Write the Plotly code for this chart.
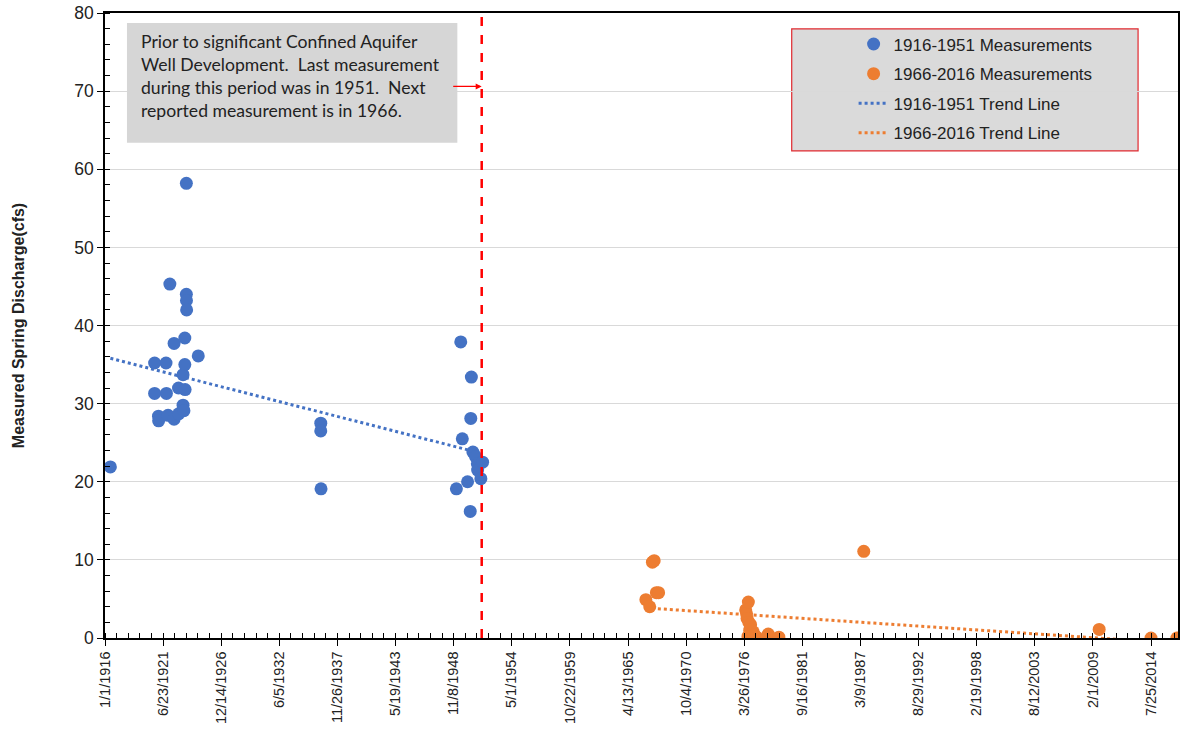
import pandas as pd
import plotly.graph_objects as go

# ---------------- data ----------------
blue_dates = [
    "1916-07-04", "1920-09-03", "1920-09-03", "1921-01-15", "1921-01-20",
    "1921-10-01", "1921-10-15", "1921-12-10", "1922-02-10", "1922-07-05",
    "1922-07-05", "1922-12-05", "1922-12-10", "1923-05-10", "1923-05-10",
    "1923-06-10", "1923-07-10", "1923-07-10", "1923-07-20", "1923-09-01",
    "1923-09-01", "1923-09-05", "1923-09-10", "1924-10-15",
    "1936-05-01", "1936-05-01", "1936-05-10",
    "1949-02-10", "1949-07-10", "1949-09-01", "1950-03-01", "1950-06-01",
    "1950-06-20", "1950-07-10", "1950-09-01", "1950-12-01", "1951-02-01",
    "1951-02-10", "1951-06-01", "1951-08-01",
]
blue_values = [
    21.9, 35.2, 31.3, 28.4, 27.8,
    35.2, 31.3, 28.5, 45.3, 37.7,
    28.0, 32.0, 28.7, 33.7, 29.8,
    29.1, 38.4, 35.0, 31.8, 58.2,
    44.0, 43.2, 42.0, 36.1,
    27.5, 26.5, 19.1,
    19.1, 37.9, 25.5, 20.0, 16.2,
    28.1, 33.4, 23.8, 23.2, 22.3,
    21.5, 20.4, 22.5,
]
orange_dates = [
    "1966-12-19", "1967-05-01", "1967-08-01", "1967-10-01", "1967-12-15",
    "1968-03-01", "1976-05-15", "1976-06-15", "1976-08-15", "1976-07-01",
    "1976-09-01", "1976-11-01", "1976-10-01", "1977-02-01", "1976-08-01",
    "1977-06-01", "1977-03-01", "1978-07-01", "1979-07-01", "1987-07-01",
    "2009-09-05", "2014-07-25", "2016-12-31",
]
orange_values = [
    4.9, 4.0, 9.7, 9.9, 5.8,
    5.8, 3.6, 3.1, 4.6, 2.5,
    2.0, 1.7, 1.0, 0.8, 0.2,
    0.1, 0.4, 0.5, 0.1, 11.1,
    1.1, 0.0, 0.0,
]
blue_trend_dates = ["1916-07-04", "1951-08-01"]
blue_trend_values = [35.8, 23.6]
orange_trend_dates = ["1966-12-19", "2016-12-31"]
orange_trend_values = [3.85, -0.68]

x_tick_labels = [
    "1/1/1916", "6/23/1921", "12/14/1926", "6/5/1932", "11/26/1937",
    "5/19/1943", "11/8/1948", "5/1/1954", "10/22/1959", "4/13/1965",
    "10/4/1970", "3/26/1976", "9/16/1981", "3/9/1987", "8/29/1992",
    "2/19/1998", "8/12/2003", "2/1/2009", "7/25/2014",
]
y_tick_values = [0, 10, 20, 30, 40, 50, 60, 70, 80]
divider_date = "1951-07-01"
x_range = ["1916-01-01", "2017-02-08"]

note_text = ("Prior to significant Confined Aquifer<br>"
             "Well Development.\u00a0 Last measurement<br>"
             "during this period was in 1951.\u00a0 Next<br>"
             "reported measurement is in 1966.")

# ---------------- figure ----------------
tick_vals = [pd.to_datetime(s, format="%m/%d/%Y").strftime("%Y-%m-%d") for s in x_tick_labels]

BLUE = "#4472C4"
ORANGE = "#ED7D31"
FONT = "Arial, Liberation Sans, sans-serif"

fig = go.Figure()

fig.add_trace(go.Scatter(
    x=blue_trend_dates, y=blue_trend_values, mode="lines",
    name="1916-1951 Trend Line", legendgroup="c", legendrank=3,
    line=dict(color=BLUE, width=3, dash="dot")))
fig.add_trace(go.Scatter(
    x=orange_trend_dates, y=orange_trend_values, mode="lines",
    name="1966-2016 Trend Line", legendgroup="d", legendrank=4,
    line=dict(color=ORANGE, width=3, dash="dot")))
fig.add_trace(go.Scatter(
    x=blue_dates, y=blue_values, mode="markers",
    name="1916-1951 Measurements", legendgroup="a", legendrank=1,
    marker=dict(color=BLUE, size=13, line=dict(width=0))))
fig.add_trace(go.Scatter(
    x=orange_dates, y=orange_values, mode="markers",
    name="1966-2016 Measurements", legendgroup="b", legendrank=2,
    marker=dict(color=ORANGE, size=13, line=dict(width=0))))

L, R, T, B = 105, 3, 12, 102
W, H = 1183, 740
pw, ph = W - L - R, H - T - B


def px(x):
    return (x - L) / pw


def py(y):
    return (H - B - y) / ph


shapes = [
    # note box
    dict(type="rect", xref="paper", yref="paper",
         x0=px(127), x1=px(458), y0=py(142), y1=py(22),
         fillcolor="#d6d6d6", line=dict(width=0), layer="above"),
    # legend box
    dict(type="rect", xref="paper", yref="paper",
         x0=px(793), x1=px(1140), y0=py(150), y1=py(28),
         fillcolor="#dadada", line=dict(color="#e0282e", width=1.2), layer="below"),
    # divider
    dict(type="line", xref="x", yref="y", x0=divider_date, x1=divider_date,
         y0=0, y1=80, line=dict(color="#ff0000", width=2.5, dash="dash"), layer="above"),
]

annotations = [
    dict(xref="paper", yref="paper", x=px(139), y=py(28), xanchor="left", yanchor="top",
         text=note_text, showarrow=False, align="left",
         font=dict(family="Lato, Open Sans, sans-serif", size=17.6, color="#222222")),
    dict(xref="x", yref="y", x=divider_date, y=70.6, ax=-30, ay=0, text="",
         showarrow=True, arrowhead=2, arrowsize=1, arrowwidth=1.2, arrowcolor="#ff0000"),
]

fig.update_layout(
    width=W, height=H,
    margin=dict(l=L, r=R, t=T, b=B),
    paper_bgcolor="white", plot_bgcolor="white",
    font=dict(family=FONT, color="#222222"),
    shapes=shapes, annotations=annotations,
    showlegend=True,
    legend=dict(x=px(855), y=py(25.5), xanchor="left", yanchor="top",
                bgcolor="rgba(0,0,0,0)", borderwidth=0,
                traceorder="grouped", tracegroupgap=4.5,
                font=dict(family=FONT, size=17, color="#222222")),
)

fig.update_xaxes(
    type="date", range=x_range,
    tickmode="array", tickvals=tick_vals, ticktext=x_tick_labels,
    tickangle=-90, tickfont=dict(size=14.5, family=FONT, color="#222222"),
    ticks="outside", ticklen=6, tickwidth=1.3, tickcolor="black",
    minor=dict(dtick=400 * 86400000, tick0="1916-01-01", ticks="inside",
               ticklen=5, tickwidth=1.3, tickcolor="black"),
    showline=True, linecolor="black", linewidth=1.5, mirror=True,
    showgrid=False, zeroline=False,
)
fig.update_yaxes(
    range=[0, 80], tickmode="array", tickvals=y_tick_values,
    tickfont=dict(size=17.5, family=FONT, color="#222222"),
    ticks="outside", ticklen=6, tickwidth=1.3, tickcolor="black",
    minor=dict(dtick=2, ticks="inside", ticklen=5, tickwidth=1.3, tickcolor="black"),
    showline=True, linecolor="black", linewidth=1.5, mirror=True,
    showgrid=True, gridcolor="#d9d9d9", gridwidth=1, zeroline=False,
    title=dict(text="<b>Measured Spring Discharge(cfs)</b>",
               font=dict(size=16, family=FONT, color="#222222"), standoff=46),
)

fig.write_html("out.html", config={"displayModeBar": False},
               post_script="document.body.style.margin='0px';")
